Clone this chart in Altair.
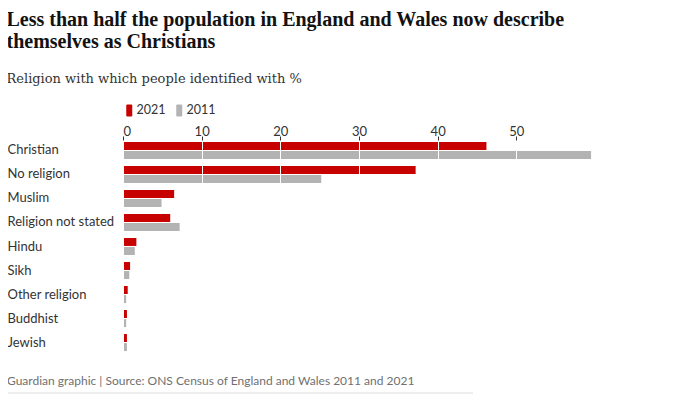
import altair as alt
import pandas as pd

categories = ["Christian", "No religion", "Muslim", "Religion not stated", "Hindu",
              "Sikh", "Other religion", "Buddhist", "Jewish"]
pct_2021 = [46.2, 37.2, 6.5, 6.0, 1.7, 0.9, 0.6, 0.5, 0.5]
pct_2011 = [59.5, 25.2, 4.9, 7.2, 1.5, 0.8, 0.4, 0.4, 0.5]
years = ["2021", "2011"]
tick_values = [0, 10, 20, 30, 40, 50]

title_lines = ["Less than half the population in England and Wales now describe",
               "themselves as Christians"]
subtitle = "Religion with which people identified with %"
footer = "Guardian graphic | Source: ONS Census of England and Wales 2011 and 2021"

RED = "#c70000"
GREY = "#b3b3b3"
SANS = "Lato"
SERIF = "Liberation Serif"

rows = []
for c, a, b in zip(categories, pct_2021, pct_2011):
    rows.append({"religion": c, "year": years[0], "pct": a})
    rows.append({"religion": c, "year": years[1], "pct": b})
df = pd.DataFrame(rows)

W = 472
H = 213

pill = ("M-1,-1.6 Q-1,-2 -0.6,-2 L0.6,-2 Q1,-2 1,-1.6 "
        "L1,1.6 Q1,2 0.6,2 L-0.6,2 Q-1,2 -1,1.6 Z")

bars = alt.Chart(df).mark_bar().encode(
    x=alt.X("pct:Q",
            scale=alt.Scale(domain=[0, 60], nice=False),
            axis=alt.Axis(orient="top", values=tick_values, title=None, grid=True,
                          gridColor="white", gridWidth=1, zindex=1, domain=False,
                          ticks=True, tickColor="#333", tickSize=4,
                          labelFont=SANS, labelFontSize=13, labelColor="#333",
                          labelPadding=-2)),
    y=alt.Y("religion:N", sort=categories,
            scale=alt.Scale(paddingInner=0.29, paddingOuter=0.08),
            axis=alt.Axis(title=None, domain=False, ticks=False, labelAlign="left",
                          labelPadding=116, labelFont=SANS, labelFontSize=13,
                          labelColor="#333")),
    yOffset=alt.YOffset("year:N", sort=years, scale=alt.Scale(paddingInner=0.12)),
    color=alt.Color("year:N", sort=years,
                    scale=alt.Scale(domain=years, range=[RED, GREY]),
                    legend=alt.Legend(orient="top", title=None, direction="horizontal",
                                      symbolType=pill, symbolSize=36, symbolStrokeWidth=0,
                                      labelFont=SANS, labelFontSize=12.5, labelColor="#333",
                                      columnPadding=7, labelOffset=1, offset=8)),
)

foot = alt.Chart(pd.DataFrame({"t": [footer]})).mark_text(
    align="left", baseline="middle", font=SANS, fontSize=12, color="#707070"
).encode(text="t:N", x=alt.value(-116), y=alt.value(H + 28))

line = alt.Chart(pd.DataFrame({"t": [footer]})).mark_rule(
    color="#dcdcdc", strokeWidth=1
).encode(x=alt.value(-116), x2=alt.value(350), y=alt.value(H + 40))

chart = alt.layer(bars, foot, line).properties(
    width=W, height=H,
    padding={"left": -2, "top": 2, "right": 5, "bottom": 0},
    title=alt.Title(text=title_lines, subtitle=subtitle, anchor="start", frame="bounds",
                    font=SERIF, fontSize=20, fontWeight="bold", lineHeight=22,
                    color="#121212", subtitleFont="DejaVu Serif", subtitleFontSize=13,
                    subtitleColor="#333", subtitlePadding=21, offset=18),
).configure_view(stroke=None)

chart.save("out.html", embed_options={"renderer": "svg", "actions": False})
